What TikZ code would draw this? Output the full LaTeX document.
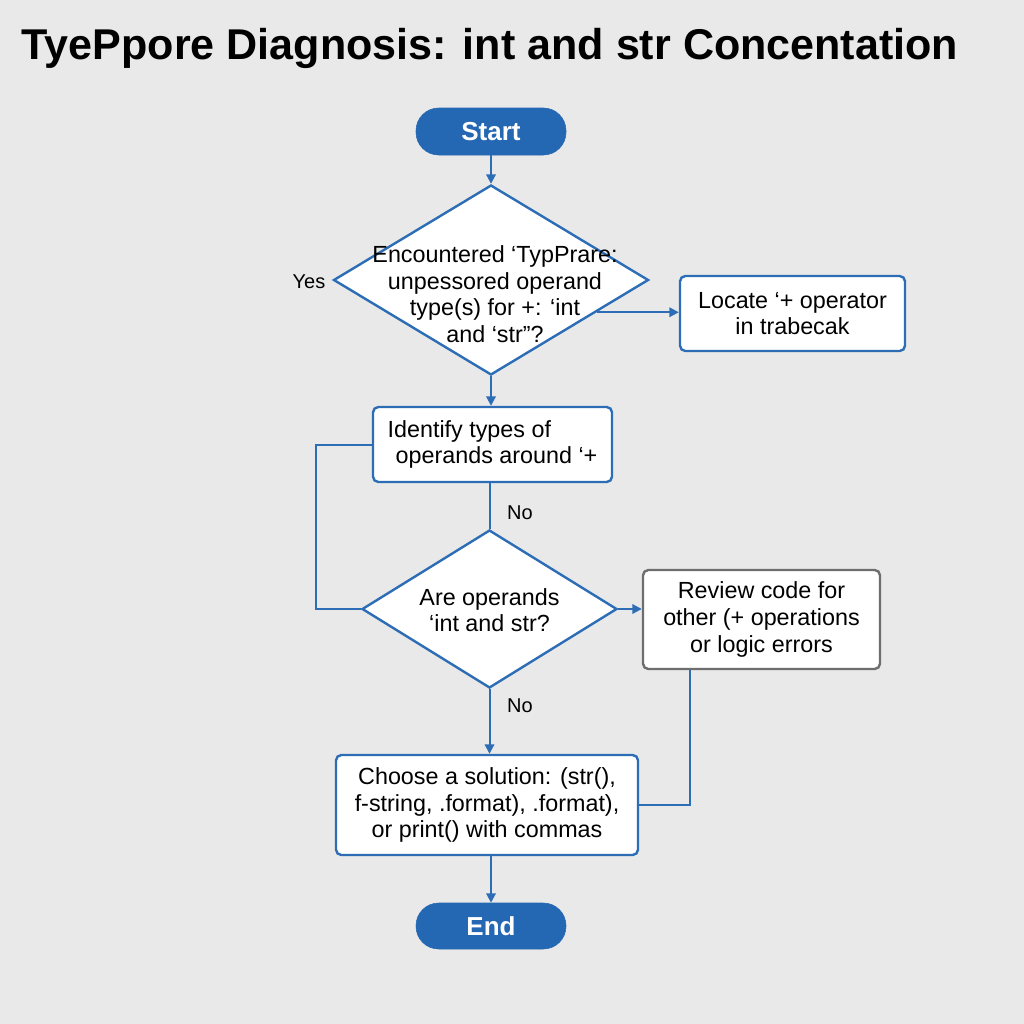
\documentclass[tikz,border=0pt]{standalone}
\usepackage{fontspec}
\setmainfont{Liberation Sans}
\usetikzlibrary{shapes.geometric,arrows.meta,calc}
\definecolor{bg}{HTML}{E9E9E9}
\definecolor{fblue}{HTML}{2467B3}
\definecolor{lblue}{HTML}{2C6DB6}
\definecolor{rgray}{HTML}{6E6E6E}
\tikzset{
  pill/.style={rectangle, rounded corners=17pt, fill=fblue, draw=fblue, text=white, font=\fontsize{19.5}{22}\selectfont\bfseries, inner sep=0pt},
  box/.style={rectangle, rounded corners=4pt, fill=white, draw=lblue, line width=1.8pt, font=\fontsize{17.5}{20}\selectfont, inner sep=0pt, align=center},
  graybox/.style={box, draw=rgray},
  dia/.style={diamond, fill=white, draw=lblue, line width=1.8pt, inner sep=0pt},
  ttext/.style={font=\fontsize{17.5}{20}\selectfont, align=center, inner sep=0pt},
  lbl/.style={font=\fontsize{15}{17}\selectfont, inner sep=0pt},
  conn/.style={draw=lblue, line width=1.5pt},
  arr/.style={conn, -{Triangle[length=7pt,width=7pt]}}
}
\begin{document}
\begin{tikzpicture}[x=0.75pt,y=-0.75pt]
\fill[bg] (0,0) rectangle (1024,1024);
\useasboundingbox (0,0) rectangle (1024,1024);
\node[font=\fontsize{32.3}{36}\selectfont\bfseries, inner sep=0pt] (title) at (490,48) {TyePpore Diagnosis: int and str Concentation};
\node[pill, minimum width=112.5pt, minimum height=35.25pt] (start) at (491,131.5) {Start};
\node[dia, minimum width=236.25pt, minimum height=142.5pt] (d1) at (491,280) {};
\node[ttext] (d1t) at (495,294) {Encountered ‘TypPrare:\\unpessored operand\\type(s) for +: ‘int\\and ‘str”?};
\node[lbl] (yes) at (309,282) {Yes};
\node[box, minimum width=168.75pt, minimum height=56.25pt] (loc) at (792.5,313.5) {Locate ‘+ operator\\in trabecak};
\node[box, minimum width=179.25pt, minimum height=56.25pt, align=left] (ident) at (492.5,444.5) {Identify types of\\\hspace*{6pt}operands around ‘+};
\node[dia, minimum width=191.25pt, minimum height=118.5pt] (d2) at (489.5,609) {};
\node[ttext] (d2t) at (489.5,610) {Are operands\\‘int and str?};
\node[graybox, minimum width=177.75pt, minimum height=74.25pt] (rev) at (761.5,619.5) {Review code for\\other (+ operations\\or logic errors};
\node[box, minimum width=226.5pt, minimum height=75pt] (cho) at (487,805) {Choose a solution: (str(),\\f-string, .format), .format),\\or print() with commas};
\node[pill, minimum width=112.5pt, minimum height=34.5pt] (end) at (491,926) {End};
\node[lbl] (no1) at (520,513) {No};
\node[lbl] (no2) at (520,706) {No};
% connectors
\draw[arr] (start.south) -- (d1.north);
\draw[arr] (d1.-17.8) -- (d1.-17.8 -| loc.west);
\draw[arr] (d1.south) -- (d1.south |- ident.north);
\draw[conn] (ident.south -| d2.north) -- (d2.north);
\draw[conn] (d2.west) -- ++(-45,0) |- (ident.west);
\draw[arr] (d2.east) -- (d2.east -| rev.west);
\coordinate (rb) at ($(rev.south west)!0.2!(rev.south east)$);
\draw[conn] (rb) |- (cho.east);
\draw[arr] (d2.south) -- (d2.south |- cho.north);
\draw[arr] (cho.south -| end.north) -- (end.north);
\end{tikzpicture}
\end{document}
